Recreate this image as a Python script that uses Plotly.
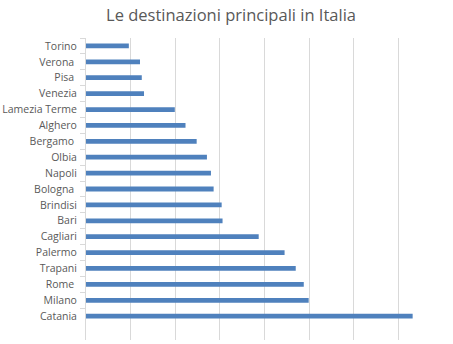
import plotly.graph_objects as go

# categories top to bottom
cities = ["Torino", "Verona\u00a0", "Pisa\u00a0", "Venezia", "Lamezia Terme", "Alghero",
          "Bergamo\u00a0", "Olbia", "Napoli", "Bologna\u00a0", "Brindisi", "Bari",
          "Cagliari", "Palermo", "Trapani", "Rome\u00a0", "Milano", "Catania"]
values = [960, 1210, 1250, 1300, 1990, 2230, 2480, 2710, 2800, 2860, 3040, 3060,
          3870, 4450, 4700, 4880, 4990, 7320]
title = "Le destinazioni principali in Italia"

fig = go.Figure(go.Bar(
    y=cities, x=values, orientation="h",
    marker=dict(color="#4F81BD", line=dict(width=0)),
    width=0.3,
))

fig.update_layout(
    width=453, height=344,
    margin=dict(l=86, r=10, t=38, b=4, autoexpand=False),
    paper_bgcolor="white", plot_bgcolor="white",
    showlegend=False,
    title=dict(text=title, x=0.51, xanchor="center", y=0.955, yanchor="middle",
               font=dict(family="Open Sans", size=16.5, color="#595959")),
    font=dict(family="Open Sans", size=10.5, color="#595959"),
    bargap=0.7,
)
fig.update_xaxes(range=[0, 8000], dtick=1000, showticklabels=False,
                 showgrid=True, gridcolor="#D9D9D9", gridwidth=1,
                 zeroline=False, showline=False, ticks="", automargin=False)
fig.update_yaxes(type="category", categoryorder="array", categoryarray=cities,
                 range=[18.5, -0.5], showline=True, linecolor="#D9D9D9", linewidth=1,
                 ticks="outside", tickson="boundaries", ticklen=5, tickcolor="#D9D9D9",
                 showgrid=False, ticklabelstandoff=6, automargin=False)

fig.write_html("out.html")
